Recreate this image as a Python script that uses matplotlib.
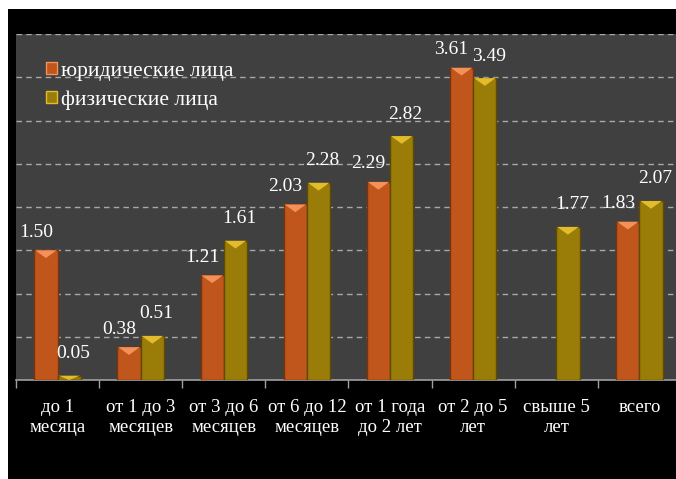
import numpy as np
import matplotlib
matplotlib.use("Agg")
import matplotlib.pyplot as plt
from matplotlib.patches import Rectangle, Polygon, Patch

categories = ["до 1\nмесяца", "от 1 до 3\nмесяцев", "от 3 до 6\nмесяцев",
              "от 6 до 12\nмесяцев", "от 1 года\nдо 2 лет", "от 2 до 5\nлет",
              "свыше 5\nлет", "всего"]
legal = [1.50, 0.38, 1.21, 2.03, 2.29, 3.61, np.nan, 1.83]
physical = [0.05, 0.51, 1.61, 2.28, 2.82, 3.49, 1.77, 2.07]
series_names = ["юридические лица", "физические лица"]

plt.rcParams['font.family'] = ['Liberation Serif', 'DejaVu Serif']

W, H = 676, 479
fig = plt.figure(figsize=(W / 100, H / 100), dpi=100)
fig.patch.set_facecolor("white")
fig.patches.append(Rectangle((8 / W, 0), 1, (H - 9) / H, transform=fig.transFigure,
                             facecolor="black", edgecolor="none", zorder=-10))

ax = fig.add_axes([16 / W, 99 / H, 665 / W, 346 / H])
ax.set_facecolor("#404040")

x = np.arange(len(categories))
bw = 0.28
off = 0.14
colors = ["#C0561C", "#9A7C08"]
edges = ["#7A3408", "#5E4A02"]
tops = ["#F39158", "#E2BC2C"]
lab_dx = [-10, 4]
lab_dy = [18, 22]

for k, (vals, sgn) in enumerate([(legal, -1), (physical, 1)]):
    v = np.array(vals, dtype=float)
    bars = ax.bar(x + sgn * off, np.nan_to_num(v), width=bw, color=colors[k],
                  edgecolor=edges[k], linewidth=1.0, zorder=3)
    for b, val in zip(bars, v):
        if np.isnan(val):
            b.set_visible(False)
            continue
        x0 = b.get_x(); x1 = x0 + b.get_width(); t = b.get_height()
        d = min(0.09, t)
        ax.add_patch(Polygon([(x0 + 0.01, t), (x1 - 0.01, t), ((x0 + x1) / 2, t - d)],
                             closed=True, facecolor=tops[k], edgecolor="none", zorder=4))
        ax.annotate(f"{val:.2f}", (b.get_x() + b.get_width() / 2, t),
                    xytext=(lab_dx[k], lab_dy[k]), textcoords="offset pixels",
                    ha="center", va="center", color="white", fontsize=14, zorder=5)

ax.set_xlim(-0.5, len(categories) - 0.5)
ax.set_ylim(0, 4.0)
ax.set_yticks(np.arange(0.5, 4.01, 0.5))
ax.yaxis.grid(True, color="#A8A8A8", linestyle=(0, (4, 3)), linewidth=1.0, zorder=0)
ax.set_axisbelow(True)
ax.tick_params(axis="y", left=False, labelleft=False)

ax.set_xticks(x)
ax.set_xticklabels(categories, color="white", fontsize=13.5, linespacing=1.2)
ax.tick_params(axis="x", length=0, pad=14)
ax.set_xticks(np.arange(-0.5, len(categories), 1.0), minor=True)
ax.tick_params(axis="x", which="minor", length=6, color="#A0A0A0", width=1)

for s in ["top", "left", "right"]:
    ax.spines[s].set_visible(False)
ax.spines["bottom"].set_color("#A0A0A0")
ax.spines["bottom"].set_linewidth(1.2)

handles = [Patch(facecolor=colors[0], edgecolor=tops[0]),
           Patch(facecolor=colors[1], edgecolor=tops[1])]
leg = ax.legend(handles, series_names, loc="upper left", bbox_to_anchor=(0.032, 0.945),
                frameon=False, fontsize=15.5, handlelength=0.5, handleheight=0.5,
                handletextpad=0.2, labelspacing=0.45, borderaxespad=0)
for t in leg.get_texts():
    t.set_color("white")

fig.savefig("out.png", dpi=100, facecolor=fig.get_facecolor())
